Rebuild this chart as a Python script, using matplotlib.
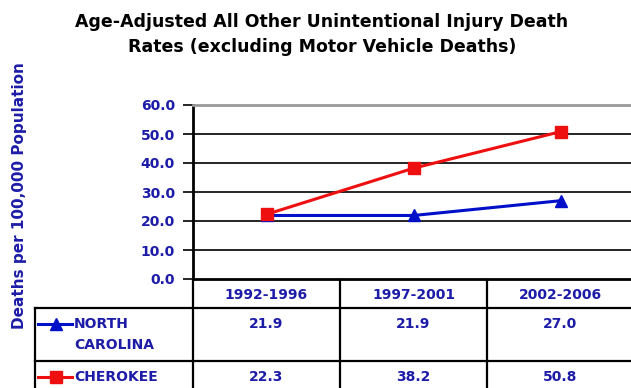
import matplotlib
matplotlib.use("Agg")
import matplotlib.pyplot as plt
from matplotlib.lines import Line2D

# rates per 100,000 population
periods = ["1992-1996", "1997-2001", "2002-2006"]
nc_rates = [21.9, 21.9, 27.0]
cherokee_rates = [22.3, 38.2, 50.8]
series_names = ["NORTH\nCAROLINA", "CHEROKEE"]
yticks = [0, 10, 20, 30, 40, 50, 60]

W, H = 631, 388
NAVY = "#1c1ca8"
BLUE = "#0010c8"
RED = "#ee1010"

fig = plt.figure(figsize=(W / 100, H / 100), dpi=100)
fig.patch.set_facecolor("white")


def fx(px):
    return px / W


def fy(py):
    return 1 - py / H


# plot area in pixel coords
left, right, top, bottom = 193, 634, 105, 279
ax = fig.add_axes([fx(left), fy(bottom), fx(right - left), (bottom - top) / H])
ax.set_xlim(-0.5, 2.5)
ax.set_ylim(0, 60)

x = list(range(len(periods)))
ax.plot(x, nc_rates, color=BLUE, lw=2.2, marker="^", ms=9, mec=BLUE, mfc=BLUE, zorder=3)
ax.plot(x, cherokee_rates, color=RED, lw=2.2, marker="s", ms=9, mec=RED, mfc=RED, zorder=4)

ax.set_yticks(yticks)
ax.set_yticklabels([f"{v:.1f}" for v in yticks], fontsize=10, fontweight="bold", color=NAVY)
ax.tick_params(axis="y", length=7, width=1.2, color="black", pad=6)
ax.set_xticks([])
for v in yticks[1:-1]:
    ax.axhline(v, color="black", lw=1.2, zorder=1)
ax.spines["left"].set_linewidth(2)
ax.spines["bottom"].set_linewidth(2)
ax.spines["top"].set_color("#999999")
ax.spines["top"].set_linewidth(2)
ax.spines["right"].set_visible(False)

fig.text(fx(20), fy(196), "Deaths per 100,000 Population", rotation=90,
         ha="center", va="center", fontsize=11, fontweight="bold", color=NAVY)

fig.text(0.51, fy(22), "Age-Adjusted All Other Unintentional Injury Death",
         ha="center", va="center", fontsize=12.5, fontweight="bold")
fig.text(0.51, fy(47), "Rates (excluding Motor Vehicle Deaths)",
         ha="center", va="center", fontsize=12.5, fontweight="bold")

# data table beneath the plot
col_edges = [193, 340, 487, 634]
row_edges = [280, 308, 361, 390]
leg_left = 35


def hline(y, x0, x1, lw=1.6):
    fig.add_artist(Line2D([fx(x0), fx(x1)], [fy(y), fy(y)], color="black", lw=lw))


def vline(xp, y0, y1, lw=1.6):
    fig.add_artist(Line2D([fx(xp), fx(xp)], [fy(y0), fy(y1)], color="black", lw=lw))


for xp in col_edges[:-1]:
    vline(xp, row_edges[0], row_edges[-1])
vline(leg_left, row_edges[1], row_edges[-1])
hline(row_edges[1], leg_left, W)
hline(row_edges[2], leg_left, W)

for i, p in enumerate(periods):
    cx = (col_edges[i] + col_edges[i + 1]) / 2
    fig.text(fx(cx), fy(295), p, ha="center", va="center",
             fontsize=10, fontweight="bold", color=NAVY)

table_rows = [(series_names[0], nc_rates, BLUE, "^"),
              (series_names[1], cherokee_rates, RED, "s")]
for r, (name, vals, col, mk) in enumerate(table_rows):
    ytop = row_edges[r + 1]
    ytxt = ytop + 16
    # legend key: line sample with marker in the middle
    fig.add_artist(Line2D([fx(38), fx(72)], [fy(ytxt), fy(ytxt)], color=col, lw=2.2))
    fig.add_artist(Line2D([fx(56)], [fy(ytxt)], color=col, marker=mk, ms=9,
                          mfc=col, mec=col, lw=0))
    fig.text(fx(74), fy(ytxt - 7), name, ha="left", va="top", fontsize=10,
             fontweight="bold", color=NAVY, linespacing=1.6)
    for i, v in enumerate(vals):
        cx = (col_edges[i] + col_edges[i + 1]) / 2
        fig.text(fx(cx), fy(ytxt), f"{v:.1f}", ha="center", va="center",
                 fontsize=10, fontweight="bold", color=NAVY)

fig.savefig("out.png", dpi=100)
